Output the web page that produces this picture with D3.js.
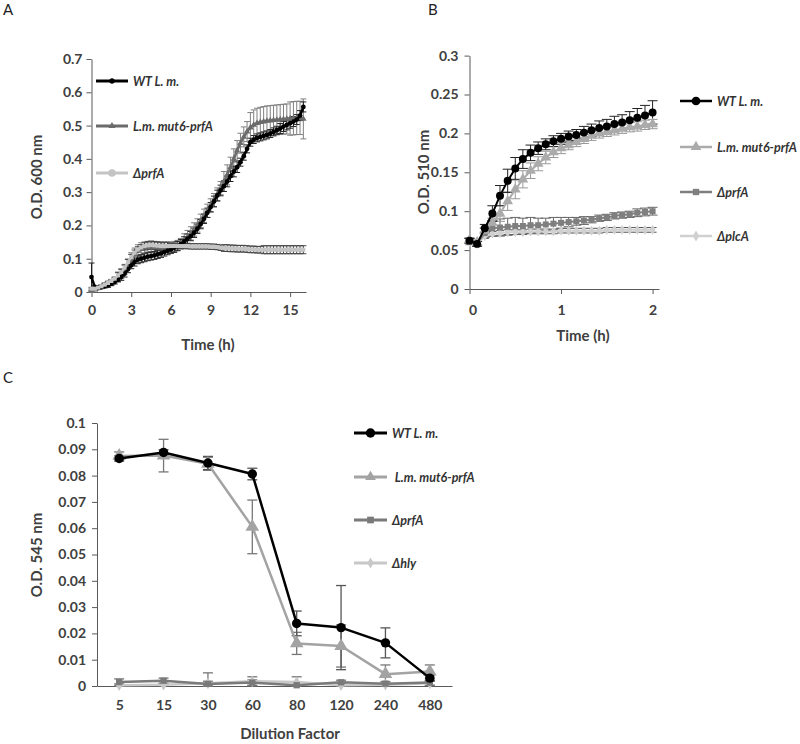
<!DOCTYPE html>
<html><head><meta charset="utf-8">
<script src="https://cdn.jsdelivr.net/npm/d3@7"></script>
<style>body{margin:0;background:#fff} svg{display:block}</style>
</head><body><svg id="c" width="800" height="744"></svg>
<script>
// ---------- Panel A data ----------
const timeA = [0,0.25,0.5,0.75,1,1.25,1.5,1.75,2,2.25,2.5,2.75,3,3.25,3.5,3.75,4,4.25,4.5,4.75,5,5.25,5.5,5.75,6,6.25,6.5,6.75,7,7.25,7.5,7.75,8,8.25,8.5,8.75,9,9.25,9.5,9.75,10,10.25,10.5,10.75,11,11.25,11.5,11.75,12,12.25,12.5,12.75,13,13.25,13.5,13.75,14,14.25,14.5,14.75,15,15.25,15.5,15.75,16];
const wtA = [0.045,0.015,0.012,0.014,0.017,0.02,0.025,0.03,0.037,0.045,0.055,0.068,0.08,0.09,0.097,0.1,0.103,0.106,0.108,0.11,0.113,0.116,0.12,0.124,0.128,0.133,0.138,0.144,0.152,0.16,0.168,0.178,0.19,0.204,0.22,0.238,0.255,0.272,0.29,0.305,0.318,0.332,0.348,0.362,0.375,0.39,0.408,0.43,0.45,0.458,0.463,0.466,0.469,0.472,0.476,0.481,0.486,0.491,0.497,0.502,0.507,0.512,0.518,0.53,0.556];
const wtErrA = [0.042,0.004,0.004,0.004,0.004,0.006,0.006,0.006,0.006,0.01,0.01,0.01,0.01,0.012,0.012,0.012,0.012,0.012,0.012,0.012,0.012,0.012,0.012,0.012,0.012,0.014,0.014,0.014,0.014,0.014,0.014,0.014,0.014,0.014,0.014,0.014,0.014,0.016,0.016,0.016,0.016,0.016,0.016,0.016,0.016,0.012,0.012,0.012,0.012,0.012,0.012,0.012,0.012,0.012,0.012,0.012,0.012,0.015,0.015,0.015,0.015,0.015,0.015,0.015,0.015];
const mut6A = [0.005,0.008,0.012,0.016,0.02,0.025,0.03,0.037,0.045,0.055,0.068,0.084,0.1,0.114,0.124,0.13,0.133,0.135,0.136,0.135,0.134,0.133,0.133,0.134,0.135,0.137,0.14,0.146,0.155,0.165,0.176,0.188,0.2,0.214,0.229,0.244,0.26,0.276,0.293,0.312,0.332,0.352,0.375,0.4,0.425,0.447,0.466,0.482,0.494,0.502,0.507,0.51,0.512,0.514,0.515,0.516,0.517,0.518,0.519,0.52,0.521,0.522,0.523,0.523,0.52];
const mut6ErrA = [0.005,0.005,0.005,0.005,0.008,0.008,0.008,0.008,0.015,0.015,0.015,0.015,0.018,0.018,0.018,0.018,0.015,0.015,0.015,0.015,0.015,0.015,0.015,0.015,0.015,0.015,0.015,0.015,0.02,0.02,0.02,0.02,0.02,0.02,0.02,0.02,0.02,0.02,0.02,0.02,0.03,0.03,0.03,0.03,0.03,0.03,0.03,0.03,0.045,0.045,0.045,0.045,0.045,0.045,0.045,0.045,0.045,0.045,0.045,0.045,0.05,0.05,0.05,0.05,0.06];
const prfA_A = [0.01,0.01,0.013,0.017,0.022,0.027,0.033,0.04,0.05,0.06,0.073,0.09,0.105,0.118,0.128,0.134,0.138,0.14,0.141,0.14,0.139,0.138,0.138,0.138,0.138,0.138,0.138,0.138,0.138,0.138,0.137,0.137,0.137,0.137,0.137,0.137,0.136,0.136,0.135,0.133,0.132,0.132,0.131,0.131,0.13,0.13,0.13,0.129,0.128,0.128,0.127,0.127,0.127,0.127,0.127,0.127,0.127,0.127,0.127,0.127,0.127,0.127,0.127,0.127,0.127];
const prfErrA = [0.004,0.004,0.004,0.004,0.004,0.004,0.004,0.004,0.008,0.008,0.008,0.008,0.008,0.008,0.008,0.008,0.012,0.012,0.012,0.012,0.012,0.012,0.012,0.012,0.008,0.008,0.008,0.008,0.008,0.008,0.008,0.008,0.008,0.008,0.008,0.008,0.008,0.008,0.008,0.008,0.01,0.01,0.01,0.01,0.01,0.01,0.01,0.01,0.01,0.01,0.01,0.01,0.012,0.012,0.012,0.012,0.012,0.012,0.012,0.012,0.012,0.012,0.012,0.012,0.012];
const xTicksA = [0,3,6,9,12,15];
const yTicksA = [0,0.1,0.2,0.3,0.4,0.5,0.6,0.7];
const legendA = ["WT L. m.","L.m. mut6-prfA","\u0394prfA"];

// ---------- Panel B data ----------
const timeB = [0,0.083,0.167,0.25,0.333,0.417,0.5,0.583,0.667,0.75,0.833,0.917,1,1.083,1.167,1.25,1.333,1.417,1.5,1.583,1.667,1.75,1.833,1.917,2];
const wtB = [0.062,0.058,0.078,0.097,0.12,0.139,0.155,0.167,0.175,0.181,0.186,0.19,0.193,0.196,0.198,0.201,0.204,0.207,0.209,0.212,0.214,0.217,0.22,0.223,0.227];
const wtErrB = [0.003,0.003,0.005,0.01,0.013,0.015,0.014,0.012,0.01,0.008,0.007,0.007,0.007,0.007,0.007,0.008,0.008,0.009,0.009,0.01,0.01,0.011,0.012,0.013,0.015];
const mut6B = [0.063,0.06,0.075,0.085,0.097,0.113,0.128,0.141,0.152,0.161,0.169,0.176,0.181,0.185,0.189,0.193,0.197,0.2,0.202,0.204,0.206,0.208,0.209,0.211,0.212];
const mut6ErrB = [0.003,0.003,0.004,0.006,0.01,0.012,0.012,0.011,0.01,0.009,0.008,0.007,0.007,0.006,0.006,0.006,0.006,0.006,0.006,0.006,0.006,0.006,0.006,0.006,0.006];
const prfB = [0.062,0.058,0.072,0.078,0.079,0.08,0.081,0.081,0.082,0.082,0.083,0.084,0.085,0.086,0.087,0.088,0.089,0.091,0.092,0.094,0.095,0.096,0.098,0.099,0.1];
const prfErrB = [0.003,0.003,0.006,0.01,0.011,0.011,0.011,0.01,0.01,0.009,0.008,0.008,0.007,0.006,0.005,0.005,0.004,0.004,0.004,0.004,0.004,0.004,0.005,0.005,0.005];
const plcB = [0.06,0.058,0.068,0.071,0.072,0.073,0.073,0.073,0.074,0.074,0.074,0.074,0.075,0.075,0.075,0.075,0.075,0.075,0.076,0.076,0.076,0.076,0.076,0.076,0.076];
const plcErrB = [0.003,0.003,0.003,0.003,0.003,0.003,0.003,0.003,0.003,0.003,0.003,0.003,0.003,0.003,0.003,0.003,0.003,0.003,0.003,0.003,0.003,0.003,0.003,0.003,0.003];
const xTicksB = [0,1,2];
const yTicksB = [0,0.05,0.1,0.15,0.2,0.25,0.3];
const legendB = ["WT L. m.","L.m. mut6-prfA","\u0394prfA","\u0394plcA"];

// ---------- Panel C data ----------
const dilution = ["5","15","30","60","80","120","240","480"];
const wtC = [0.0865,0.0888,0.0848,0.0806,0.0238,0.0222,0.0164,0.003];
const wtErrC = [0.001,0.001,0.0025,0.0022,0.0047,0.016,0.0057,0.001];
const mut6C = [0.0875,0.0876,0.0845,0.0605,0.0162,0.0152,0.0045,0.0055];
const mut6ErrC = [0.0015,0.0062,0.0025,0.0102,0.0042,0.008,0.0035,0.0025];
const prfC = [0.0015,0.002,0.0008,0.0013,0.0003,0.0014,0.0009,0.0013];
const prfErrC = [0.0012,0.001,0.001,0.001,0.001,0.0008,0.0008,0.001];
const hlyC = [0.0003,0.0005,0.001,0.0018,0.0015,0.0003,0.0005,0.001];
const hlyErrC = [0.0005,0.0005,0.004,0.0017,0.002,0.0005,0.0005,0.0008];
const yTicksC = [0,0.01,0.02,0.03,0.04,0.05,0.06,0.07,0.08,0.09,0.1];
const legendC = ["WT L. m.","\u00a0L.m. mut6-prfA","\u0394prfA","\u0394hly"];

// ---------- helpers ----------
const FONT = "Lato, 'Open Sans', 'DejaVu Sans', sans-serif";
const AX = "#595959", TX = "#404040";
const TICK_FS = 14, TITLE_FS = 15;
const svg = d3.select("#c");

function styleAxis(g, fs) {
  g.selectAll("path.domain").attr("stroke", AX).attr("stroke-width", 1);
  g.selectAll(".tick line").attr("stroke", AX);
  g.selectAll(".tick text").attr("fill", TX).attr("font-family", FONT)
    .attr("font-weight", "bold").attr("font-size", fs);
}
function txt(x, y, s, o) {
  o = o || {};
  const t = svg.append("text").attr("x", x).attr("y", y).text(s)
    .attr("font-family", FONT).attr("font-size", o.fs || TITLE_FS)
    .attr("font-weight", o.fw || "bold").attr("fill", o.fill || TX)
    .attr("text-anchor", o.anchor || "middle");
  if (o.italic) t.attr("font-style", "italic");
  if (o.rot) t.attr("transform", `rotate(-90,${x},${y})`);
  return t;
}
function errBars(g, xs, ys, es, x, y, color, cap, w) {
  xs.forEach((t, i) => {
    const cx = x(t), y1 = y(ys[i] + es[i]), y0 = y(Math.max(0, ys[i] - es[i]));
    g.append("line").attr("x1", cx).attr("x2", cx).attr("y1", y1).attr("y2", y0)
      .attr("stroke", color).attr("stroke-width", w);
    [y1, y0].forEach(yy => g.append("line").attr("x1", cx - cap / 2).attr("x2", cx + cap / 2)
      .attr("y1", yy).attr("y2", yy).attr("stroke", color).attr("stroke-width", w));
  });
}
function series(g, xs, ys, x, y, color, lw, sym, size) {
  const ln = d3.line().x((d, i) => x(xs[i])).y(d => y(d));
  g.append("path").attr("d", ln(ys)).attr("fill", "none").attr("stroke", color)
    .attr("stroke-width", lw).attr("stroke-linejoin", "round");
  const s = d3.symbol().type(sym).size(size);
  ys.forEach((v, i) => g.append("path").attr("d", s())
    .attr("transform", `translate(${x(xs[i])},${y(v)})`).attr("fill", color));
}
function legend(items, x0, x1, tx, ys, fs) {
  items.forEach((it, i) => {
    svg.append("line").attr("x1", x0).attr("x2", x1).attr("y1", ys[i]).attr("y2", ys[i])
      .attr("stroke", it.color).attr("stroke-width", it.lw);
    svg.append("path").attr("d", d3.symbol().type(it.sym).size(it.size)())
      .attr("transform", `translate(${(x0 + x1) / 2},${ys[i]})`).attr("fill", it.color);
    txt(tx, ys[i] + 4.5, it.name, { anchor: "start", italic: true, fs: fs, fill: "#333" });
  });
}

// ---------- Panel A ----------
{
  const x = d3.scaleLinear().domain([0, 16.2]).range([91.5, 306]);
  const y = d3.scaleLinear().domain([0, 0.7]).range([292, 59]);
  const g = svg.append("g");
  const gx = g.append("g").attr("transform", "translate(0,292)")
    .call(d3.axisBottom(x).tickValues(xTicksA).tickSize(5).tickSizeOuter(0).tickPadding(8).tickFormat(String));
  styleAxis(gx, TICK_FS);
  const gy = g.append("g").attr("transform", "translate(91.5,0)")
    .call(d3.axisLeft(y).tickValues(yTicksA).tickSize(5).tickSizeOuter(0).tickPadding(4).tickFormat(String));
  styleAxis(gy, TICK_FS);
  const ge = g.append("g");
  errBars(ge, timeA, mut6A, mut6ErrA, x, y, "#808080", 6, 1);
  errBars(ge, timeA, wtA, wtErrA, x, y, "#222", 6, 1);
  errBars(ge, timeA, prfA_A, prfErrA, x, y, "#444", 6, 1);
  series(g, timeA, mut6A, x, y, "#6b6b6b", 2.5, d3.symbolTriangle, 18);
  series(g, timeA, wtA, x, y, "#000", 2.5, d3.symbolCircle, 18);
  series(g, timeA, prfA_A, x, y, "#c4c4c4", 2.5, d3.symbolSquare, 16);
  legend([
    { name: legendA[0], color: "#000", lw: 3, sym: d3.symbolCircle, size: 22 },
    { name: legendA[1], color: "#6b6b6b", lw: 3, sym: d3.symbolTriangle, size: 22 },
    { name: legendA[2], color: "#c4c4c4", lw: 3, sym: d3.symbolCircle, size: 45 }
  ], 96, 128, 133, [81, 126, 173], 12.5);
  txt(208, 350, "Time (h)");
  txt(42, 177, "O.D. 600 nm", { rot: true });
  txt(3, 15, "A", { anchor: "start", fw: "normal", fs: 15, fill: "#222" });
}

// ---------- Panel B ----------
{
  const x = d3.scaleLinear().domain([0, 2.07]).range([469.5, 659]);
  const y = d3.scaleLinear().domain([0, 0.3]).range([289, 55.6]);
  const g = svg.append("g");
  const gx = g.append("g").attr("transform", "translate(0,289)")
    .call(d3.axisBottom(x).tickValues(xTicksB).tickSize(5).tickSizeOuter(0).tickPadding(11).tickFormat(String));
  styleAxis(gx, TICK_FS);
  gx.selectAll(".tick text").attr("dx", (d) => d === 0 ? 3 : 0);
  const gy = g.append("g").attr("transform", "translate(469.5,0)")
    .call(d3.axisLeft(y).tickValues(yTicksB).tickSize(5).tickSizeOuter(0).tickPadding(6).tickFormat(String));
  styleAxis(gy, TICK_FS);
  const ge = g.append("g");
  errBars(ge, timeB, plcB, plcErrB, x, y, "#555", 8, 1);
  errBars(ge, timeB, prfB, prfErrB, x, y, "#666", 10, 1);
  errBars(ge, timeB, mut6B, mut6ErrB, x, y, "#999", 10, 1);
  errBars(ge, timeB, wtB, wtErrB, x, y, "#222", 10, 1);
  series(g, timeB, plcB, x, y, "#d0d0d0", 2, d3.symbolDiamond, 30);
  series(g, timeB, prfB, x, y, "#7f7f7f", 2, d3.symbolSquare, 36);
  series(g, timeB, mut6B, x, y, "#ababab", 2, d3.symbolTriangle, 50);
  series(g, timeB, wtB, x, y, "#000", 2, d3.symbolCircle, 50);
  legend([
    { name: legendB[0], color: "#000", lw: 2.5, sym: d3.symbolCircle, size: 60 },
    { name: legendB[1], color: "#ababab", lw: 2.5, sym: d3.symbolTriangle, size: 50 },
    { name: legendB[2], color: "#7f7f7f", lw: 2.5, sym: d3.symbolSquare, size: 40 },
    { name: legendB[3], color: "#d0d0d0", lw: 2.5, sym: d3.symbolDiamond, size: 35 }
  ], 680, 712, 717, [101, 147, 192, 236], 12.5);
  txt(583, 341, "Time (h)");
  txt(429, 172, "O.D. 510 nm", { rot: true });
  txt(428, 15, "B", { anchor: "start", fw: "normal", fs: 15, fill: "#222" });
}

// ---------- Panel C ----------
{
  const x = d3.scalePoint().domain(dilution).range([97, 452]).padding(0.5);
  const y = d3.scaleLinear().domain([0, 0.1]).range([686, 423]);
  const g = svg.append("g");
  const gx = g.append("g").attr("transform", "translate(0,686)")
    .call(d3.axisBottom(x).tickSize(0).tickSizeOuter(0).tickPadding(14));
  styleAxis(gx, TICK_FS);
  const gy = g.append("g").attr("transform", "translate(97,0)")
    .call(d3.axisLeft(y).tickValues(yTicksC).tickSize(5).tickSizeOuter(0).tickPadding(6).tickFormat(String));
  styleAxis(gy, TICK_FS);
  const ge = g.append("g");
  errBars(ge, dilution, hlyC, hlyErrC, x, y, "#777", 10, 1.3);
  errBars(ge, dilution, prfC, prfErrC, x, y, "#777", 10, 1.3);
  errBars(ge, dilution, mut6C, mut6ErrC, x, y, "#777", 10, 1.3);
  errBars(ge, dilution, wtC, wtErrC, x, y, "#555", 10, 1.3);
  series(g, dilution, hlyC, x, y, "#c8c8c8", 2.5, d3.symbolDiamond, 40);
  series(g, dilution, prfC, x, y, "#7a7a7a", 2.5, d3.symbolSquare, 40);
  series(g, dilution, mut6C, x, y, "#a3a3a3", 2.5, d3.symbolTriangle, 80);
  series(g, dilution, wtC, x, y, "#000", 2.5, d3.symbolCircle, 70);
  legend([
    { name: legendC[0], color: "#000", lw: 3, sym: d3.symbolCircle, size: 70 },
    { name: legendC[1], color: "#a3a3a3", lw: 3, sym: d3.symbolTriangle, size: 50 },
    { name: legendC[2], color: "#7a7a7a", lw: 3, sym: d3.symbolSquare, size: 45 },
    { name: legendC[3], color: "#c8c8c8", lw: 3, sym: d3.symbolDiamond, size: 35 }
  ], 354, 387, 392, [433, 477, 520, 563], 12.5);
  txt(290, 739, "Dilution Factor");
  txt(42, 555, "O.D. 545 nm", { rot: true });
  txt(3, 383, "C", { anchor: "start", fw: "normal", fs: 15, fill: "#222" });
}
</script></body></html>
